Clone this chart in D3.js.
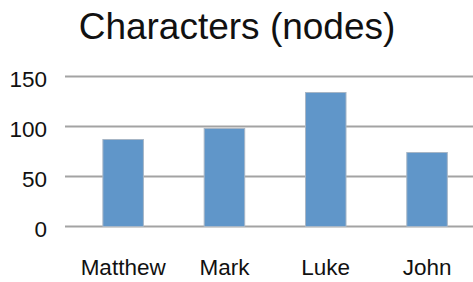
<!DOCTYPE html>
<html><head><meta charset="utf-8">
<script src="https://cdn.jsdelivr.net/npm/d3@7"></script>
<style>body{margin:0;background:#fff}svg{display:block}text{font-family:"Liberation Sans",Helvetica,Arial,sans-serif;fill:#111}</style>
</head><body>
<svg id="c" width="473" height="282"></svg>
<script>
const categories = ["Matthew", "Mark", "Luke", "John"];
const values = [87, 98, 134, 74];
const yTicks = [0, 50, 100, 150];
const title = "Characters (nodes)";

const svg = d3.select("#c");
const x = d3.scaleBand().domain(categories).range([72.5, 477.7]).paddingInner(0.6).paddingOuter(0.3);
const y = d3.scaleLinear().domain([0, 150]).range([226.5, 76.5]);

svg.append("text").attr("x", 237).attr("y", 39).attr("text-anchor", "middle")
  .style("font-size", "37px").text(title);

svg.append("g").selectAll("line").data(yTicks).join("line")
  .attr("x1", 65).attr("x2", 473).attr("y1", d => y(d)).attr("y2", d => y(d))
  .attr("stroke", "#a3a3a3").attr("stroke-width", 2);

svg.append("g").selectAll("text").data(yTicks).join("text")
  .attr("x", 47).attr("y", d => y(d) + 10).attr("text-anchor", "end")
  .style("font-size", "22.5px").text(d => d);

svg.append("g").selectAll("rect").data(values).join("rect")
  .attr("x", (d, i) => x(categories[i]))
  .attr("width", x.bandwidth())
  .attr("y", d => y(d))
  .attr("height", d => y(0) - y(d))
  .attr("fill", "#6096c9").attr("stroke", "#a7b6c6").attr("stroke-width", 1);

svg.append("g").selectAll("text").data(categories).join("text")
  .attr("x", d => x(d) + x.bandwidth() / 2).attr("y", 275).attr("text-anchor", "middle")
  .style("font-size", "22.5px").text(d => d);
</script>
</body></html>
